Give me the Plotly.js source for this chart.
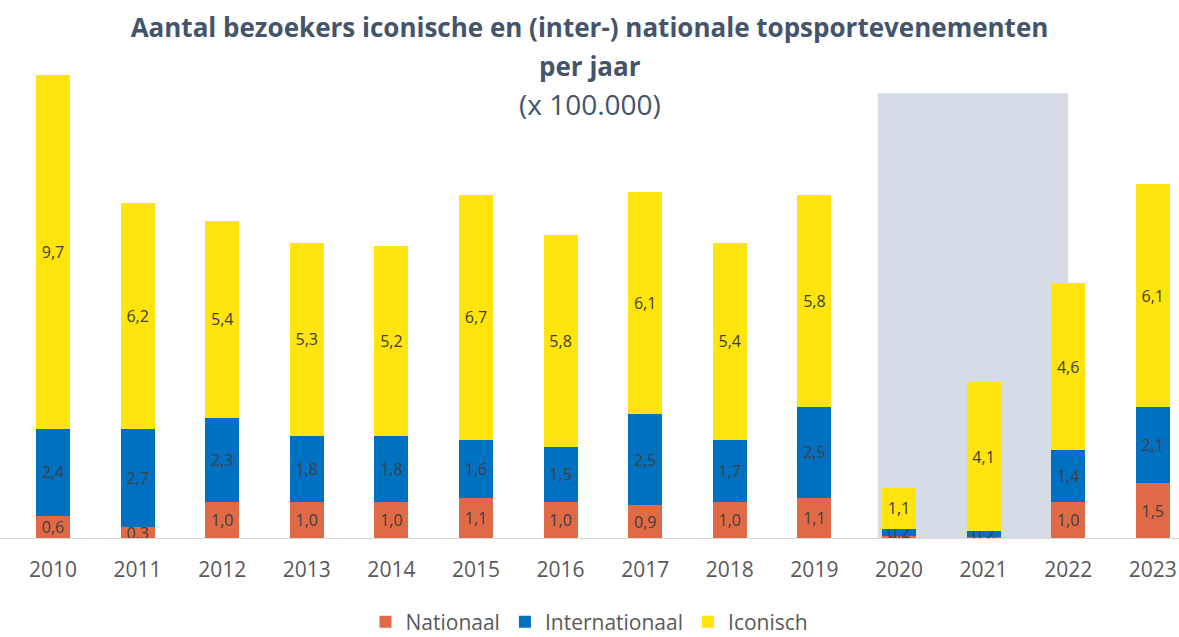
<!DOCTYPE html>
<html>
<head>
<meta charset="utf-8">
<script src="https://cdn.plot.ly/plotly-3.0.1.min.js"></script>
<style>html,body{margin:0;padding:0;background:#fff;}#chart{width:1179px;height:637px;}</style>
</head>
<body>
<div id="chart"></div>
<script>
var years = ['2010','2011','2012','2013','2014','2015','2016','2017','2018','2019','2020','2021','2022','2023'];
var nationaal = [0.6, 0.3, 1.0, 1.0, 1.0, 1.1, 1.0, 0.9, 1.0, 1.1, 0.06, 0.02, 1.0, 1.5];
var internationaal = [2.4, 2.7, 2.3, 1.8, 1.8, 1.6, 1.5, 2.5, 1.7, 2.5, 0.2, 0.16, 1.4, 2.1];
var iconisch = [9.7, 6.2, 5.4, 5.3, 5.2, 6.7, 5.8, 6.1, 5.4, 5.8, 1.1, 4.1, 4.6, 6.1];
var seriesNames = ['Nationaal', 'Internationaal', 'Iconisch'];
var seriesColors = ['#E06A45', '#0070C0', '#FFE40D'];
var seriesValues = [nationaal, internationaal, iconisch];

var font = 'Open Sans, Liberation Sans, sans-serif';
var traces = seriesValues.map(function(vals, i){
  return {
    type: 'bar',
    name: seriesNames[i],
    x: years,
    y: vals,
    marker: {color: seriesColors[i], line: {width: 0}},
    texttemplate: '%{y:.1f}',
    textposition: 'inside',
    insidetextanchor: 'middle',
    textangle: 0,
    constraintext: 'none',
    textfont: {family: font, size: 16, color: '#404040'},
    hoverinfo: 'x+y+name'
  };
});

var layout = {
  width: 1179,
  height: 637,
  barmode: 'stack',
  bargap: 0.6,
  separators: ',.',
  paper_bgcolor: '#ffffff',
  plot_bgcolor: 'rgba(0,0,0,0)',
  margin: {l: 0, r: 0, t: 64, b: 99, pad: 0, autoexpand: false},
  uniformtext: {mode: 'show', minsize: 16},
  title: {
    text: '<b>Aantal bezoekers iconische en (inter-) nationale topsportevenementen</b>',
    font: {family: font, size: 26, color: '#44546A'},
    x: 0.5, xanchor: 'center',
    yref: 'container', y: 1 - 28/637, yanchor: 'middle'
  },
  annotations: [
    {text: '<b>per jaar</b>', xref: 'paper', yref: 'paper', x: 0.5, xanchor: 'center',
     y: (637 - 99 - 66) / (637 - 99 - 64), yanchor: 'middle', showarrow: false,
     font: {family: font, size: 26, color: '#44546A'}},
    {text: '(x 100.000)', xref: 'paper', yref: 'paper', x: 0.5, xanchor: 'center',
     y: (637 - 99 - 104) / (637 - 99 - 64), yanchor: 'middle', showarrow: false,
     font: {family: font, size: 28, color: '#44546A'}}
  ],
  shapes: [
    {type: 'rect', xref: 'x', yref: 'y', x0: 9.75, x1: 12.0, y0: 0, y1: 12.2,
     fillcolor: '#D6DCE5', line: {width: 0}, layer: 'below'}
  ],
  xaxis: {
    type: 'category',
    range: [-0.6265, 13.31],
    showgrid: false,
    zeroline: false,
    showline: true,
    linecolor: '#D9D9D9',
    linewidth: 1,
    ticks: '',
    ticklabelstandoff: 13,
    tickfont: {family: font, size: 21, color: '#595959'},
    automargin: false,
    fixedrange: true
  },
  yaxis: {
    range: [0, 13],
    visible: false,
    showgrid: false,
    zeroline: false,
    fixedrange: true
  },
  showlegend: true,
  legend: {
    orientation: 'h',
    x: 0.5, xanchor: 'center',
    yref: 'paper', y: -(622 - 538) / 474, yanchor: 'middle',
    font: {family: font, size: 21, color: '#595959'},
    itemwidth: 30,
    traceorder: 'normal'
  }
};

Plotly.newPlot('chart', traces, layout, {displayModeBar: false, staticPlot: true});
</script>
</body>
</html>
